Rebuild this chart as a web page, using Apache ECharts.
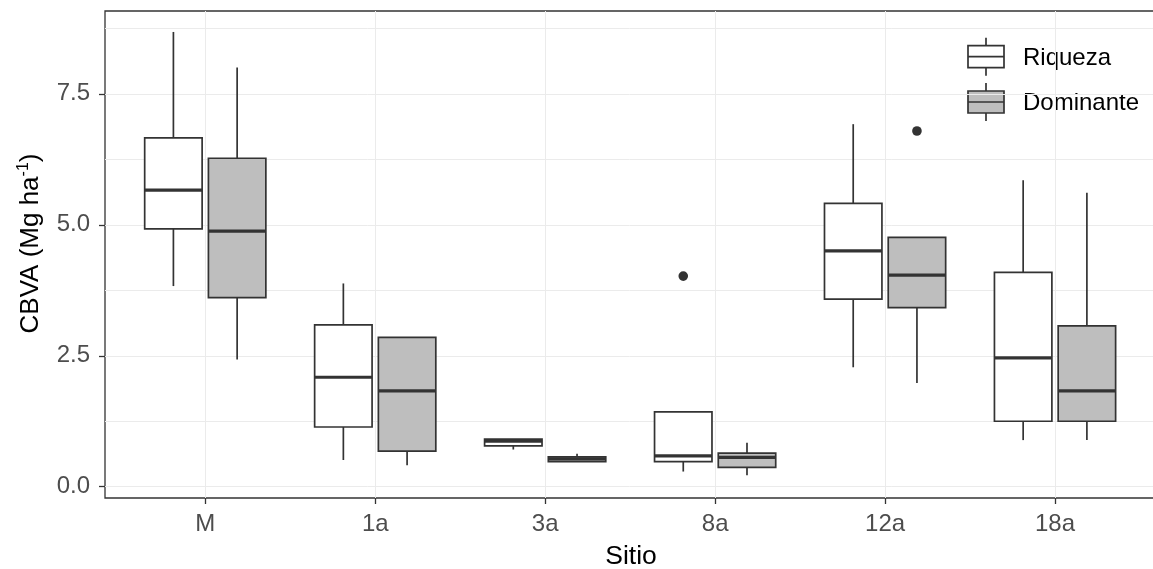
<!DOCTYPE html>
<html>
<head>
<meta charset="utf-8">
<script src="https://cdn.jsdelivr.net/npm/echarts@6/dist/echarts.min.js"></script>
<style>
  html, body { margin: 0; padding: 0; background: #ffffff; }
  #chart { width: 1153px; height: 569px; }
</style>
</head>
<body>
<div id="chart"></div>
<script>
// Sites on the x axis
const sitios = ['M', '1a', '3a', '8a', '12a', '18a'];
// Labelled y ticks and the extra (minor) grid lines between them
const yTicks = [0, 2.5, 5, 7.5];
const yMinorGrid = [1.25, 3.75, 6.25, 8.75];

// Box summaries per site: [lower whisker, Q1, median, Q3, upper whisker]
const riqueza = [
  [3.83, 4.92, 5.66, 6.66, 8.68],
  [0.51, 1.14, 2.09, 3.09, 3.88],
  [0.71, 0.78, 0.87, 0.91, 0.91],
  [0.29, 0.48, 0.59, 1.43, 1.43],
  [2.28, 3.58, 4.50, 5.41, 6.92],
  [0.89, 1.25, 2.46, 4.09, 5.85]
];
const dominante = [
  [2.43, 3.61, 4.88, 6.27, 8.00],
  [0.41, 0.68, 1.83, 2.85, 2.85],
  [0.48, 0.48, 0.53, 0.57, 0.63],
  [0.22, 0.37, 0.56, 0.64, 0.84],
  [1.98, 3.42, 4.04, 4.76, 4.76],
  [0.89, 1.25, 1.83, 3.07, 5.61]
];
// Outliers: [site index, value]
const outRiqueza = [[3, 4.02]];
const outDominante = [[4, 6.79]];

const FONT = 'Liberation Sans, Arial, sans-serif';
const INK = '#333333';
const FILL_RIQ = '#ffffff';
const FILL_DOM = '#bebebe';
const DODGE = 0.1875;   // half the dodge width, in category units
const HALF_BOX = 0.169; // half a box width, in category units
const LW = 1.7;         // box and whisker stroke

function boxRenderer(offset, fill) {
  return function (params, api) {
    const c = api.value(0) + offset;
    const xL = api.coord([c - HALF_BOX, 0])[0];
    const xR = api.coord([c + HALF_BOX, 0])[0];
    const xC = api.coord([c, 0])[0];
    const y = k => api.coord([c, api.value(k)])[1];
    const yMin = y(1), yQ1 = y(2), yMed = y(3), yQ3 = y(4), yMax = y(5);
    const thin = { stroke: INK, lineWidth: LW };
    return {
      type: 'group',
      children: [
        { type: 'line', shape: { x1: xC, y1: yQ3, x2: xC, y2: yMax }, style: thin },
        { type: 'line', shape: { x1: xC, y1: yQ1, x2: xC, y2: yMin }, style: thin },
        { type: 'rect', shape: { x: xL, y: yQ3, width: xR - xL, height: yQ1 - yQ3 },
          style: { fill: fill, stroke: INK, lineWidth: LW } },
        { type: 'line', shape: { x1: xL, y1: yMed, x2: xR, y2: yMed },
          style: { stroke: INK, lineWidth: 3.2 } }
      ]
    };
  };
}

function outlierRenderer(offset) {
  return function (params, api) {
    const p = api.coord([api.value(0) + offset, api.value(1)]);
    return { type: 'circle', shape: { cx: p[0], cy: p[1], r: 4.8 }, style: { fill: INK } };
  };
}

const boxData = rows => rows.map((r, i) => [i].concat(r));

// Legend keys drawn as small boxplot glyphs
function legendKey(x, yTop, fill) {
  const w = 36, h = 22, xc = x + w / 2;
  return [
    { type: 'line', shape: { x1: xc, y1: yTop - 8, x2: xc, y2: yTop }, style: { stroke: INK, lineWidth: LW } },
    { type: 'line', shape: { x1: xc, y1: yTop + h, x2: xc, y2: yTop + h + 8 }, style: { stroke: INK, lineWidth: LW } },
    { type: 'rect', shape: { x: x, y: yTop, width: w, height: h }, style: { fill: fill, stroke: INK, lineWidth: LW } },
    { type: 'line', shape: { x1: x, y1: yTop + h / 2, x2: x + w, y2: yTop + h / 2 }, style: { stroke: INK, lineWidth: LW } }
  ];
}

const chart = echarts.init(document.getElementById('chart'), null, { renderer: 'canvas' });
chart.setOption({
  animation: false,
  backgroundColor: '#ffffff',
  grid: {
    left: 105, top: 11, right: -4, bottom: 71,
    outerBoundsMode: 'none', containLabel: false,
    show: true, borderColor: INK, borderWidth: 1.3, backgroundColor: 'transparent'
  },
  xAxis: {
    type: 'value', min: -0.59, max: 5.6,
    axisLine: { show: false, onZero: false },
    axisTick: { show: true, customValues: [0, 1, 2, 3, 4, 5], length: 6, lineStyle: { color: INK, width: 1.3 } },
    axisLabel: {
      customValues: [0, 1, 2, 3, 4, 5],
      formatter: v => sitios[Math.round(v)],
      color: '#4d4d4d', fontSize: 24, fontFamily: FONT, margin: 14
    },
    splitLine: { show: true, lineStyle: { color: '#ebebeb', width: 1 } },
    name: 'Sitio', nameLocation: 'middle', nameGap: 45,
    nameTextStyle: { color: '#000', fontSize: 26.5, fontFamily: FONT }
  },
  yAxis: [
    {
      type: 'value', min: -0.215, max: 9.08,
      axisLine: { show: false, onZero: false },
      axisTick: { show: true, customValues: yTicks, length: 6, lineStyle: { color: INK, width: 1.3 } },
      axisLabel: {
        customValues: yTicks, formatter: v => v.toFixed(1),
        color: '#4d4d4d', fontSize: 24, fontFamily: FONT, margin: 15
      },
      splitLine: { show: true, lineStyle: { color: '#ebebeb', width: 1 } },
      name: '{t|CBVA (Mg ha}{s|-1}{t|)}', nameLocation: 'middle', nameGap: 59,
      nameTextStyle: {
        padding: [0, 0, 0, 22],
        rich: {
          t: { fontSize: 26, fontFamily: FONT, color: '#000', lineHeight: 30 },
          s: { fontSize: 16, fontFamily: FONT, color: '#000', lineHeight: 16, verticalAlign: 'top' }
        }
      }
    },
    {
      type: 'value', min: -0.215, max: 9.08, position: 'right',
      axisLine: { show: false, onZero: false },
      axisTick: { show: false, customValues: yMinorGrid },
      axisLabel: { show: false },
      splitLine: { show: true, lineStyle: { color: '#ebebeb', width: 1 } }
    }
  ],
  series: [
    { name: 'Riqueza', type: 'custom', renderItem: boxRenderer(-DODGE, FILL_RIQ),
      data: boxData(riqueza), encode: { x: 0, y: [1, 2, 3, 4, 5] }, z: 5 },
    { name: 'Dominante', type: 'custom', renderItem: boxRenderer(DODGE, FILL_DOM),
      data: boxData(dominante), encode: { x: 0, y: [1, 2, 3, 4, 5] }, z: 5 },
    { type: 'custom', renderItem: outlierRenderer(-DODGE), data: outRiqueza, encode: { x: 0, y: 1 }, z: 6 },
    { type: 'custom', renderItem: outlierRenderer(DODGE), data: outDominante, encode: { x: 0, y: 1 }, z: 6 }
  ],
  graphic: [
    {
      type: 'group', x: 0, y: 0, silent: true,
      children: [].concat(
        legendKey(968, 45.7, FILL_RIQ),
        legendKey(968, 91, FILL_DOM),
        [
          { type: 'text', x: 1023, y: 58, style: { text: 'Riqueza', fill: '#000', fontSize: 24, fontFamily: FONT, verticalAlign: 'middle' } },
          { type: 'text', x: 1023, y: 103.5, style: { text: 'Dominante', fill: '#000', fontSize: 24, fontFamily: FONT, verticalAlign: 'middle' } }
        ]
      )
    }
  ]
});
</script>
</body>
</html>
